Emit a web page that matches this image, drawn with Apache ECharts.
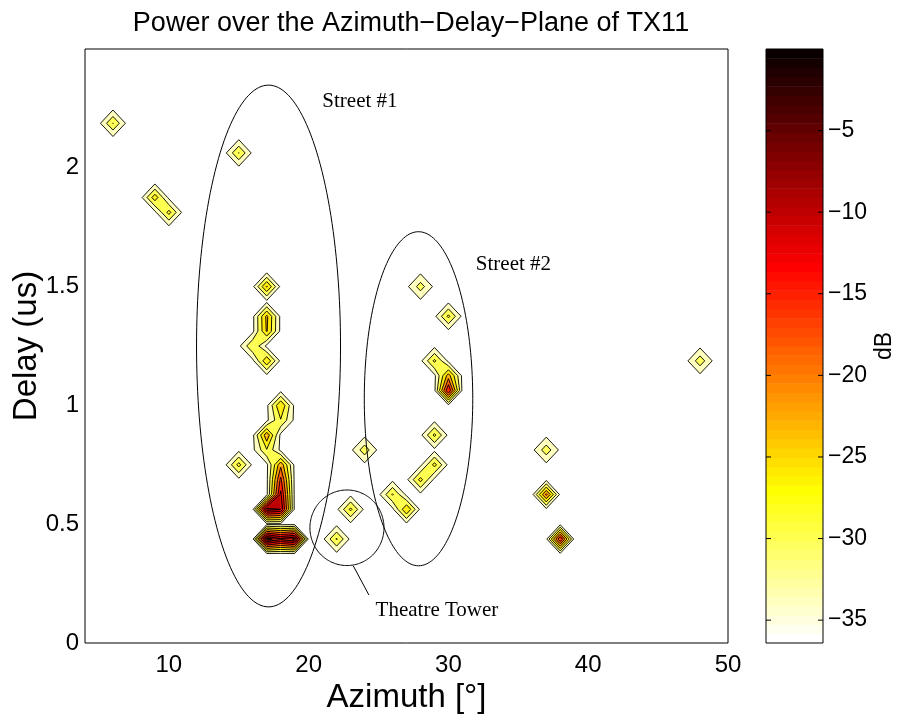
<!DOCTYPE html>
<html>
<head>
<meta charset="utf-8">
<title>Power over the Azimuth-Delay-Plane of TX11</title>
<script src="https://cdn.jsdelivr.net/npm/echarts@6/dist/echarts.min.js"></script>
<style>
html, body { margin: 0; padding: 0; background: #fff; }
#chart { width: 897px; height: 720px; }
</style>
</head>
<body>
<div id="chart"></div>
<script>
'use strict';

/* peaks on the azimuth/delay grid, every other grid node sits at the floor */
var azimuth = [6, 15, 9, 10, 17, 17, 17, 16, 17, 15,
	18, 18, 17, 17, 18, 18, 18, 18, 17, 17,
	18, 19, 22, 23, 24, 28, 30, 29, 30, 30,
	29, 29, 28, 26, 27, 37, 37, 38, 48];
var delay = [2.1875, 2.0625, 1.875, 1.8125, 1.5, 1.375, 1.3125, 1.25, 1.1875, 0.75,
	1.0, 0.9375, 0.875, 0.8125, 0.75, 0.6875, 0.625, 0.5625, 0.5625, 0.4375,
	0.4375, 0.4375, 0.4375, 0.5625, 0.8125, 1.5, 1.375, 1.1875, 1.125, 1.0625,
	0.875, 0.75, 0.6875, 0.625, 0.5625, 0.8125, 0.625, 0.4375, 1.1875];
var powerDb = [-25.8, -25.8, -23.5, -24.5, -21.5, -21, -21.5, -26.2, -22.5, -24.5,
	-22, -26.3, -19, -26.3, -19, -13, -9, -6, -4, 0,
	-5, -1.5, -25.5, -25, -27.5, -28, -25, -25, -20, -10,
	-25, -24.5, -24.5, -25.5, -22, -27.5, -17, -10, -27.5];

var floorDb = -35;
var levels = [-34, -30, -26, -22, -18, -14, -10, -6, -2];
var cMin = -36.4, cMax = 0;

var azTicks = [10, 20, 30, 40, 50];
var delayTicks = [0, 0.5, 1, 1.5, 2];
var cbTicks = [-35, -30, -25, -20, -15, -10, -5];

/* annotations */
var ellipseAz = [17.13, 27.86, 22.74];
var ellipseDelay = [1.25, 1.028, 0.485];
var ellipseRadAz = [5.15, 3.88, 2.65];
var ellipseRadDelay = [1.098, 0.703, 0.159];
var noteText = ['Street #1', 'Street #2', 'Theatre Tower'];
var noteAz = [23.67, 34.65, 29.18];
var noteDelay = [2.281, 1.591, 0.135];
var leaderAz = [23.19, 24.31];
var leaderDelay = [0.325, 0.202];

var azMin = 4, azMax = 50, azStep = 1;
var delayMax = 2.5, delayStep = 0.0625;
var nAz = Math.round((azMax - azMin) / azStep) + 1;
var nDelay = Math.round(delayMax / delayStep) + 1;

var field = [];
for (var j = 0; j < nDelay; j++) {
	field.push([]);
	for (var i = 0; i < nAz; i++) field[j].push(floorDb);
}
azimuth.forEach(function (a, p) {
	field[Math.round(delay[p] / delayStep)][Math.round((a - azMin) / azStep)] = powerDb[p];
});

/* flipped hot(64) colormap */
function hot(k) {
	var n = 24, m = 64;
	var r = k <= n ? k / n : 1;
	var g = k <= n ? 0 : (k <= 2 * n ? (k - n) / n : 1);
	var b = k <= 2 * n ? 0 : (k - 2 * n) / (m - 2 * n);
	return 'rgb(' + Math.round(r * 255) + ',' + Math.round(g * 255) + ',' + Math.round(b * 255) + ')';
}
function colorOf(db) {
	var idx = Math.floor((db - cMin) / (cMax - cMin) * 64) + 1;
	idx = Math.max(1, Math.min(64, idx));
	return hot(65 - idx);
}

var cells = [];
for (var j = 0; j < nDelay - 1; j++) {
	for (var i = 0; i < nAz - 1; i++) {
		var mx = Math.max(field[j][i], field[j][i + 1], field[j + 1][i], field[j + 1][i + 1]);
		if (mx >= levels[0]) cells.push([azMin + i * azStep, j * delayStep]);
	}
}

/* marching squares for one cell and one level */
function isoCell(vals, pts, L) {
	var inside = vals.map(function (v) { return v >= L; });
	var n = inside.filter(Boolean).length;
	if (n === 0) return null;
	if (n === 4) return { polys: [pts], segs: [] };
	var cross = [];
	for (var k = 0; k < 4; k++) {
		var k2 = (k + 1) % 4;
		if (inside[k] !== inside[k2]) {
			var t = (L - vals[k]) / (vals[k2] - vals[k]);
			cross[k] = [pts[k][0] + t * (pts[k2][0] - pts[k][0]), pts[k][1] + t * (pts[k2][1] - pts[k][1])];
		}
	}
	if (n === 2 && inside[0] === inside[2]) {
		var joined = (vals[0] + vals[1] + vals[2] + vals[3]) / 4 >= L;
		var p0 = cross[0], p1 = cross[1], p2 = cross[2], p3 = cross[3];
		if (inside[0]) {
			return joined ? { polys: [[pts[0], p0, p1, pts[2], p2, p3]], segs: [[p0, p1], [p2, p3]] }
				: { polys: [[pts[0], p0, p3], [p1, pts[2], p2]], segs: [[p0, p3], [p1, p2]] };
		}
		return joined ? { polys: [[p0, pts[1], p1, p2, pts[3], p3]], segs: [[p1, p2], [p3, p0]] }
			: { polys: [[p0, pts[1], p1], [p2, pts[3], p3]], segs: [[p0, p1], [p2, p3]] };
	}
	var poly = [], seg = [];
	for (var k = 0; k < 4; k++) {
		if (inside[k]) poly.push(pts[k]);
		if (cross[k]) { poly.push(cross[k]); seg.push(cross[k]); }
	}
	return { polys: [poly], segs: [seg] };
}

function cellGeometry(api) {
	var i = Math.round((api.value(0) - azMin) / azStep);
	var j = Math.round(api.value(1) / delayStep);
	var a0 = azMin + i * azStep, a1 = a0 + azStep;
	var d0 = j * delayStep, d1 = d0 + delayStep;
	return {
		vals: [field[j][i], field[j][i + 1], field[j + 1][i + 1], field[j + 1][i]],
		pts: [api.coord([a0, d0]), api.coord([a1, d0]), api.coord([a1, d1]), api.coord([a0, d1])]
	};
}

function renderFill(params, api) {
	var g = cellGeometry(api);
	var children = [];
	levels.forEach(function (L) {
		var r = isoCell(g.vals, g.pts, L);
		if (!r) return;
		var c = colorOf(L);
		r.polys.forEach(function (poly) {
			children.push({ type: 'polygon', shape: { points: poly },
				style: { fill: c, stroke: c, lineWidth: 0.6 } });
		});
	});
	return { type: 'group', children: children };
}

function renderLines(params, api) {
	var g = cellGeometry(api);
	var children = [];
	levels.forEach(function (L) {
		var r = isoCell(g.vals, g.pts, L);
		if (!r) return;
		r.segs.forEach(function (s) {
			children.push({ type: 'line', shape: { x1: s[0][0], y1: s[0][1], x2: s[1][0], y2: s[1][1] },
				style: { stroke: '#000', lineWidth: 0.9 } });
		});
	});
	return { type: 'group', children: children };
}

var bands = [];
for (var k = 0; k < 64; k++) {
	bands.push([cMin + k * (cMax - cMin) / 64, cMin + (k + 1) * (cMax - cMin) / 64, k + 1]);
}

var ellipses = ellipseAz.map(function (a, p) {
	return [a, ellipseDelay[p], ellipseRadAz[p], ellipseRadDelay[p]];
});
var notes = noteAz.map(function (a, p) { return [a, noteDelay[p], p]; });

var font = 'Liberation Sans, Arial, Helvetica, sans-serif';

var option = {
	animation: false,
	backgroundColor: '#fff',
	title: {
		text: 'Power over the Azimuth\u2212Delay\u2212Plane of TX11',
		left: 406, top: 5, textAlign: 'center',
		textStyle: { fontFamily: font, fontSize: 27, fontWeight: 'normal', color: '#000' }
	},
	grid: [
		{ left: 85, top: 49, width: 643, height: 594, show: true, z: 10, outerBoundsMode: 'none',
			backgroundColor: 'transparent', borderColor: '#000', borderWidth: 1 },
		{ left: 766, top: 49, width: 57, height: 594, show: true, z: 10, outerBoundsMode: 'none',
			backgroundColor: 'transparent', borderColor: '#000', borderWidth: 1 }
	],
	xAxis: [
		{ gridIndex: 0, type: 'value', min: azMin, max: azMax,
			axisLine: { show: false }, axisTick: { show: false }, splitLine: { show: false },
			axisLabel: { customValues: azTicks, fontFamily: font, fontSize: 24, color: '#000', margin: 10 },
			name: 'Azimuth [\u00b0]', nameLocation: 'middle', nameGap: 30,
			nameTextStyle: { fontFamily: font, fontSize: 33, color: '#000' } },
		{ gridIndex: 1, type: 'value', min: 0, max: 1, show: false }
	],
	yAxis: [
		{ gridIndex: 0, type: 'value', min: 0, max: delayMax,
			axisLine: { show: false }, axisTick: { show: false }, splitLine: { show: false },
			axisLabel: { customValues: delayTicks, fontFamily: font, fontSize: 24, color: '#000', margin: 6 },
			name: 'Delay (us)', nameLocation: 'middle', nameGap: 42, nameRotate: 90, nameMoveOverlap: false,
			nameTextStyle: { fontFamily: font, fontSize: 33, color: '#000' } },
		{ gridIndex: 1, type: 'value', min: cMin, max: cMax, position: 'right',
			axisLine: { show: false }, splitLine: { show: false }, axisTick: { show: false },
			axisLabel: { customValues: cbTicks, fontFamily: font, fontSize: 23, color: '#000', margin: 5,
				formatter: function (v) { return v < 0 ? '\u2212' + Math.abs(v) : String(v); } },
			name: 'dB', nameLocation: 'middle', nameGap: 50, nameRotate: 90,
			nameTextStyle: { fontFamily: font, fontSize: 23, color: '#000' } }
	],
	series: [
		{
			type: 'custom', xAxisIndex: 1, yAxisIndex: 1, silent: true, z: 2,
			data: bands,
			renderItem: function (params, api) {
				var top = api.coord([0, api.value(1)]);
				var bot = api.coord([1, api.value(0)]);
				return { type: 'rect',
					shape: { x: top[0], y: top[1], width: bot[0] - top[0], height: bot[1] - top[1] + 0.5 },
					style: { fill: hot(65 - api.value(2)) } };
			}
		},
		{
			// colorbar ticks, drawn inward on both edges
			type: 'custom', xAxisIndex: 1, yAxisIndex: 1, silent: true, z: 11,
			data: cbTicks.map(function (v) { return [0, v]; }),
			renderItem: function (params, api) {
				var l = api.coord([0, api.value(1)]);
				var r = api.coord([1, api.value(1)]);
				var st = { stroke: '#000', lineWidth: 1 };
				return { type: 'group', children: [
					{ type: 'line', shape: { x1: l[0], y1: l[1], x2: l[0] + 5, y2: l[1] }, style: st },
					{ type: 'line', shape: { x1: r[0] - 5, y1: r[1], x2: r[0], y2: r[1] }, style: st }
				] };
			}
		},
		{
			type: 'custom', xAxisIndex: 0, yAxisIndex: 0, silent: true, z: 2,
			data: cells, renderItem: renderFill
		},
		{
			type: 'custom', xAxisIndex: 0, yAxisIndex: 0, silent: true, z: 3,
			data: cells, renderItem: renderLines
		},
		{
			type: 'custom', xAxisIndex: 0, yAxisIndex: 0, silent: true, z: 4,
			data: ellipses,
			renderItem: function (params, api) {
				var c = api.coord([api.value(0), api.value(1)]);
				var s = api.size([api.value(2), api.value(3)]);
				var pts = [];
				for (var k = 0; k < 180; k++) {
					var t = k / 180 * Math.PI * 2;
					pts.push([c[0] + s[0] * Math.cos(t), c[1] + s[1] * Math.sin(t)]);
				}
				return { type: 'polygon', shape: { points: pts },
					style: { fill: 'none', stroke: '#000', lineWidth: 1 } };
			}
		},
		{
			type: 'line', xAxisIndex: 0, yAxisIndex: 0, silent: true, z: 4,
			data: leaderAz.map(function (a, p) { return [a, leaderDelay[p]]; }),
			symbol: 'none', lineStyle: { color: '#000', width: 1 }
		},
		{
			type: 'custom', xAxisIndex: 0, yAxisIndex: 0, silent: true, z: 5,
			data: notes,
			renderItem: function (params, api) {
				var c = api.coord([api.value(0), api.value(1)]);
				return { type: 'text', x: c[0], y: c[1],
					style: { text: noteText[api.value(2)], fontFamily: 'Liberation Serif, Times New Roman, serif',
						fontSize: 21, fill: '#000', align: 'center', verticalAlign: 'middle' } };
			}
		}
	]
};

var chart = echarts.init(document.getElementById('chart'));
chart.setOption(option);
</script>
</body>
</html>
